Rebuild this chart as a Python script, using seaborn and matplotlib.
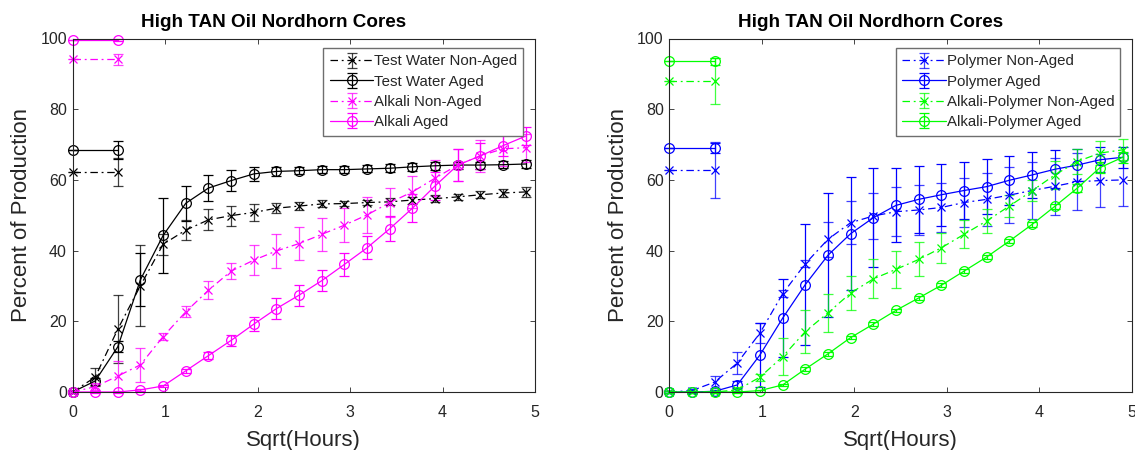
import matplotlib
matplotlib.use("Agg")
import matplotlib.pyplot as plt
import seaborn as sns

# sqrt(hours) sampling points
sqrt_hours = [0, 0.245, 0.49, 0.735, 0.98, 1.225, 1.47, 1.715, 1.96, 2.205, 2.45,
              2.695, 2.94, 3.185, 3.43, 3.675, 3.92, 4.165, 4.41, 4.655, 4.9]
# short segment showing the ultimate recovery of each core
ultimate_x = [0, 0.49]

# --- left panel: test water / alkali ---
tw_na = [0, 4.2, 17.8, 30.1, 41.8, 45.8, 48.7, 49.9, 50.8, 52.0, 52.6, 53.2, 53.3, 53.6,
         53.8, 54.3, 54.7, 55.2, 55.8, 56.3, 56.6]
tw_na_err = [0.3, 2.5, 9.5, 11.5, 3.0, 2.8, 3.0, 2.8, 2.5, 1.5, 1.2, 1.0, 0.8, 0.8, 1.0,
             1.0, 1.0, 0.8, 1.0, 1.2, 1.5]
tw_a = [0, 3.1, 12.8, 31.8, 44.3, 53.4, 57.7, 59.8, 61.7, 62.4, 62.6, 62.9, 62.9, 63.1,
        63.3, 63.7, 64.0, 64.2, 64.2, 64.3, 64.5]
tw_a_err = [0.3, 1.0, 1.5, 7.6, 10.6, 5.0, 3.7, 3.0, 2.0, 1.2, 1.0, 1.0, 1.0, 1.0, 1.2,
            1.2, 1.2, 1.0, 1.0, 1.0, 1.2]
alk_na = [0, 1.5, 4.5, 7.7, 15.7, 22.7, 28.8, 34.2, 37.3, 39.9, 42.0, 44.6, 47.2, 50.1,
          53.6, 56.6, 60.5, 64.2, 66.8, 68.8, 69.1]
alk_na_err = [0.3, 1.0, 4.4, 4.8, 1.0, 1.5, 2.5, 2.3, 4.2, 4.7, 4.7, 4.7, 4.8, 5.0, 4.2,
              4.6, 5.0, 4.4, 4.6, 5.0, 4.0]
alk_a = [0, 0, 0, 0.6, 1.7, 6.0, 10.3, 14.6, 19.2, 23.6, 27.4, 31.5, 36.1, 40.8, 46.2,
         52.0, 58.3, 64.2, 66.8, 69.7, 72.4]
alk_a_err = [0.2, 0.2, 0.2, 0.3, 0.4, 0.6, 1.0, 1.5, 2.0, 3.0, 3.0, 3.0, 3.3, 3.3, 3.6,
             4.0, 4.0, 4.4, 3.6, 3.0, 2.5]
tw_na_ult, tw_na_ult_err = [62.2, 62.2], [0, 4.0]
tw_a_ult, tw_a_ult_err = [68.5, 68.5], [0, 2.5]
alk_na_ult, alk_na_ult_err = [94.1, 94.1], [0, 1.5]
alk_a_ult, alk_a_ult_err = [99.7, 99.7], [0, 0.3]

# --- right panel: polymer / alkali-polymer ---
pol_na = [0, 0.4, 2.8, 8.2, 16.7, 27.8, 36.3, 43.2, 47.9, 49.8, 51.0, 51.5, 52.2, 53.6,
          54.5, 55.7, 57.0, 58.2, 59.5, 59.8, 60.0]
pol_na_err = [0.2, 0.5, 1.8, 3.2, 2.9, 1.0, 1.0, 5.0, 6.0, 6.5, 7.0, 7.0, 7.0, 7.0, 7.5,
              8.0, 8.0, 8.0, 8.0, 7.5, 7.5]
pol_a = [0, 0, 0.2, 2.0, 10.5, 20.9, 30.4, 38.7, 44.8, 49.3, 52.8, 54.5, 55.8, 57.0,
         58.1, 59.9, 61.4, 63.0, 64.2, 65.7, 66.4]
pol_a_err = [0.2, 0.2, 0.3, 1.0, 9.0, 11.0, 17.0, 17.5, 16.0, 14.0, 10.5, 9.4, 8.8, 8.2,
             7.8, 7.0, 6.4, 5.4, 4.5, 3.5, 3.0]
ap_na = [0, 0, 0, 0.6, 4.2, 10.0, 17.1, 22.4, 28.0, 32.0, 34.7, 37.5, 40.8, 44.6, 48.4,
         52.6, 56.9, 61.4, 65.2, 67.6, 68.5]
ap_na_err = [0.2, 0.2, 0.2, 0.3, 1.0, 5.2, 6.2, 5.3, 4.7, 5.5, 5.2, 4.8, 4.3, 4.0, 3.3,
             3.0, 3.0, 4.0, 3.5, 3.3, 3.0]
ap_a = [0, 0, 0, 0, 0.4, 2.0, 6.5, 10.8, 15.4, 19.2, 23.1, 26.6, 30.2, 34.2, 38.2, 42.7,
        47.4, 52.5, 57.7, 63.5, 66.4]
ap_a_err = [0.2, 0.2, 0.2, 0.2, 0.3, 0.4, 0.5, 0.5, 0.5, 0.5, 0.5, 0.5, 0.5, 0.5, 0.5,
            0.6, 0.6, 0.8, 1.0, 1.5, 1.5]
pol_na_ult, pol_na_ult_err = [62.8, 62.8], [0, 8.0]
pol_a_ult, pol_a_ult_err = [69.0, 69.0], [0, 1.5]
ap_na_ult, ap_na_ult_err = [88.0, 88.0], [0, 6.5]
ap_a_ult, ap_a_ult_err = [93.6, 93.6], [0, 1.0]

title_text = "High TAN Oil Nordhorn Cores"
x_label = "Sqrt(Hours)"
y_label = "Percent of Production"
x_ticks = [0, 1, 2, 3, 4, 5]
y_ticks = [0, 20, 40, 60, 80, 100]

sns.set_style("ticks")
plt.rcParams.update({
    "font.family": ["Liberation Sans", "DejaVu Sans"],
    "axes.edgecolor": "#262626",
    "axes.linewidth": 0.8,
    "xtick.direction": "in",
    "ytick.direction": "in",
    "xtick.top": True,
    "ytick.right": True,
    "xtick.color": "#262626",
    "ytick.color": "#262626",
})

DASHDOT = (0, (6, 3, 1.5, 3))
AXIS_GRAY = "#262626"


def draw_series(ax, x, y, err, color, aged, label=None):
    style = "-" if aged else DASHDOT
    marker = "o" if aged else "x"
    ms = 7 if aged else 5.5
    cont = ax.errorbar(x, y, yerr=err, color=color, linestyle=style, linewidth=0.9,
                       marker=marker, markersize=ms, markerfacecolor="none",
                       markeredgewidth=0.9, capsize=3.6, capthick=0.9,
                       elinewidth=0.9, label=label, clip_on=False)
    if not aged:
        for bar in cont[2]:
            bar.set_alpha(0.75)
        for cap in cont[1]:
            cap.set_alpha(0.75)
    for art in cont.get_children():
        art.set_clip_on(False)
    return cont


def style_axes(ax):
    ax.set_xlim(0, 5)
    ax.set_ylim(0, 100)
    ax.set_xticks(x_ticks)
    ax.set_yticks(y_ticks)
    ax.tick_params(axis="both", length=3.6, width=0.6, labelsize=11.5, labelcolor=AXIS_GRAY)
    ax.tick_params(axis="x", pad=9.5)
    ax.tick_params(axis="y", pad=4)
    for side in ["top", "right", "left", "bottom"]:
        ax.spines[side].set_visible(True)
        ax.spines[side].set_color(AXIS_GRAY)
        ax.spines[side].set_linewidth(0.8)
    ax.set_title(title_text, fontsize=13.6, fontweight="bold", pad=8, x=0.434,
                 color="black")
    ax.set_xlabel(x_label, fontsize=16, color=AXIS_GRAY, labelpad=7)
    ax.set_ylabel(y_label, fontsize=16, color=AXIS_GRAY, labelpad=6)
    leg = ax.legend(loc="upper right", bbox_to_anchor=(0.975, 0.973), fontsize=10.8,
                    frameon=True, fancybox=False, framealpha=1, edgecolor="#6e6e6e",
                    handlelength=2.9, handletextpad=0.05, labelspacing=0.42,
                    borderpad=0.42, borderaxespad=0)
    leg.get_frame().set_linewidth(1.0)


fig = plt.figure(figsize=(11.35, 4.5), dpi=100)
W, H = 1135.0, 450.0
bottom = 1 - 392 / H
height = (392 - 38.5) / H
ax1 = fig.add_axes([72.5 / W, bottom, (535 - 72.5) / W, height])
ax2 = fig.add_axes([669.3 / W, bottom, (1132 - 669.3) / W, height])

BLACK, MAGENTA, BLUE, GREEN = "#000000", "#ff00ff", "#0000ff", "#00ff00"

draw_series(ax1, sqrt_hours, tw_na, tw_na_err, BLACK, False, "Test Water Non-Aged")
draw_series(ax1, sqrt_hours, tw_a, tw_a_err, BLACK, True, "Test Water Aged")
draw_series(ax1, sqrt_hours, alk_na, alk_na_err, MAGENTA, False, "Alkali Non-Aged")
draw_series(ax1, sqrt_hours, alk_a, alk_a_err, MAGENTA, True, "Alkali Aged")
draw_series(ax1, ultimate_x, tw_na_ult, tw_na_ult_err, BLACK, False)
draw_series(ax1, ultimate_x, tw_a_ult, tw_a_ult_err, BLACK, True)
draw_series(ax1, ultimate_x, alk_na_ult, alk_na_ult_err, MAGENTA, False)
draw_series(ax1, ultimate_x, alk_a_ult, alk_a_ult_err, MAGENTA, True)
style_axes(ax1)

draw_series(ax2, sqrt_hours, pol_na, pol_na_err, BLUE, False, "Polymer Non-Aged")
draw_series(ax2, sqrt_hours, pol_a, pol_a_err, BLUE, True, "Polymer Aged")
draw_series(ax2, sqrt_hours, ap_na, ap_na_err, GREEN, False, "Alkali-Polymer Non-Aged")
draw_series(ax2, sqrt_hours, ap_a, ap_a_err, GREEN, True, "Alkali-Polymer Aged")
draw_series(ax2, ultimate_x, pol_na_ult, pol_na_ult_err, BLUE, False)
draw_series(ax2, ultimate_x, pol_a_ult, pol_a_ult_err, BLUE, True)
draw_series(ax2, ultimate_x, ap_na_ult, ap_na_ult_err, GREEN, False)
draw_series(ax2, ultimate_x, ap_a_ult, ap_a_ult_err, GREEN, True)
style_axes(ax2)

fig.savefig("out.png", dpi=100, facecolor="white")
